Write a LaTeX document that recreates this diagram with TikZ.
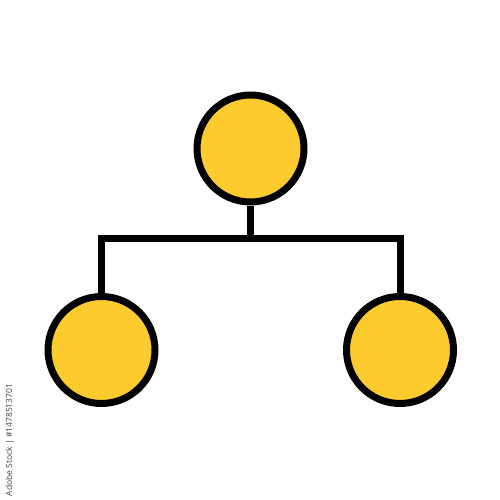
\documentclass[tikz,border=0pt]{standalone}
\usepackage{fontspec}
\setmainfont{Open Sans}
\definecolor{iconyellow}{RGB}{254,203,47}
\definecolor{stockgray}{RGB}{70,70,70}
\tikzset{
  ball/.style={circle, draw=black, line width=7pt, fill=iconyellow, minimum size=107pt, inner sep=0pt},
  wire/.style={draw=black, line width=7pt},
}
\begin{document}
\begin{tikzpicture}[x=1pt,y=-1pt]
\useasboundingbox (0,0) rectangle (500,500);
\fill[white] (0,0) rectangle (500,500);
\node[ball] (top) at (250.5,148.5) {};
\node[ball] (left) at (101.5,350) {};
\node[ball] (right) at (400,350) {};
\coordinate (hub) at (250.5,238.5);
\draw[wire] (top.south) -- (hub);
\draw[wire, line join=miter] (left.north) |- (right.north |- hub) -- (right.north);
\node[rotate=90, text=stockgray, font=\fontsize{8.5}{10}\selectfont, inner sep=0pt] (credit) at (10,440) {Adobe Stock | \#1478513701};
\end{tikzpicture}
\end{document}
